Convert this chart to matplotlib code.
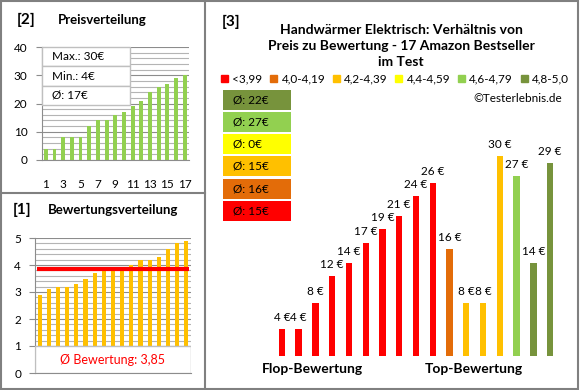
import matplotlib
matplotlib.use("Agg")
import matplotlib.pyplot as plt
from matplotlib.patches import Rectangle, Patch
from matplotlib.ticker import MultipleLocator

plt.rcParams['font.family'] = ['Lato', 'DejaVu Sans']

# data
prices_sorted = [4, 4, 8, 8, 8, 12, 14, 14, 16, 17, 19, 21, 24, 26, 27, 29, 30]
ratings_sorted = [2.9, 3.1, 3.2, 3.2, 3.3, 3.5, 3.7, 3.8, 3.8, 3.8, 4.0, 4.2, 4.2, 4.3, 4.6, 4.8, 4.9]
avg_rating = 3.85
prices_by_rating = [4, 4, 8, 12, 14, 17, 19, 21, 24, 26, 16, 8, 8, 30, 27, 14, 29]
rating_class = [0, 0, 0, 0, 0, 0, 0, 0, 0, 0, 1, 2, 2, 2, 4, 5, 5]
class_labels = ['<3,99', '4,0-4,19', '4,2-4,39', '4,4-4,59', '4,6-4,79', '4,8-5,0']
class_colors = ['#FF0000', '#E36C09', '#FFC000', '#FFFF00', '#92D050', '#77933C']
class_avg = ['15€', '16€', '15€', '0€', '27€', '22€']
stats = ['Max.: 30€', 'Min.: 4€', 'Ø: 17€']

W, H = 580, 390
fig = plt.figure(figsize=(W / 100, H / 100), dpi=100)


def ax_px(l, t, r, b):
    return fig.add_axes([l / W, 1 - b / H, (r - l) / W, (b - t) / H])


def fx(x):
    return x / W


def fy(y):
    return 1 - y / H


border = '#808080'
# panel frames
fig.add_artist(Rectangle((fx(1), fy(388.5)), fx(577), 387.5 / H, fill=False,
                         edgecolor=border, lw=1.5))
fig.add_artist(plt.Line2D([fx(205), fx(205)], [fy(1), fy(388.5)], color=border, lw=1.5))
fig.add_artist(plt.Line2D([fx(1), fx(205)], [fy(193), fy(193)], color=border, lw=1.5))


def style_grid(ax, major, minor):
    ax.yaxis.set_major_locator(MultipleLocator(major))
    ax.yaxis.set_minor_locator(MultipleLocator(minor))
    ax.grid(axis='y', which='major', color='#8C8C8C', lw=0.8)
    ax.grid(axis='y', which='minor', color='#B4B4B4', lw=0.8)
    ax.set_axisbelow(True)
    for s in ['top', 'right']:
        ax.spines[s].set_visible(False)
    for s in ['left', 'bottom']:
        ax.spines[s].set_color('#8C8C8C')
    ax.tick_params(axis='y', which='major', length=4, color='#8C8C8C', labelsize=8.5, pad=6)
    ax.tick_params(axis='y', which='minor', length=0)
    ax.tick_params(axis='x', length=0, labelsize=8.5)


# [2] Preisverteilung
fig.text(fx(17), fy(20), '[2]', fontsize=11, fontweight='bold', va='center')
fig.text(fx(58), fy(20), 'Preisverteilung', fontsize=9.5, fontweight='bold', va='center')
ax1 = ax_px(41.5, 47, 189, 160)
x1 = list(range(1, len(prices_sorted) + 1))
ax1.bar(x1, prices_sorted, width=0.45, color='#92D050')
ax1.set_xlim(0.5, 17.5)
ax1.set_ylim(0, 40)
style_grid(ax1, 10, 2)
ax1.set_xticks(x1[::2])
ax1.tick_params(axis='x', pad=14)
box_t, box_b = 47, 105
rows = len(stats)
for i, s in enumerate(stats):
    t = box_t + i * (box_b - box_t) / rows
    fig.add_artist(Rectangle((fx(42), fy(t + (box_b - box_t) / rows)), fx(88),
                             (box_b - box_t) / rows / H, facecolor='white',
                             edgecolor='#BFBFBF', lw=1))
    fig.text(fx(52), fy(t + (box_b - box_t) / rows / 2), s, fontsize=8.5, va='center')

# [1] Bewertungsverteilung
fig.text(fx(13), fy(210), '[1]', fontsize=11, fontweight='bold', va='center')
fig.text(fx(48), fy(210), 'Bewertungsverteilung', fontsize=9.5, fontweight='bold', va='center')
ax2 = ax_px(35, 238, 191, 373)
x2 = list(range(1, len(ratings_sorted) + 1))
ax2.bar(x2, ratings_sorted, width=0.45, color='#FFC000')
ax2.set_xlim(0.5, 17.5)
ax2.set_ylim(0, 5)
style_grid(ax2, 1, 0.2)
ax2.set_xticks([])
ax2.plot([0.7, 17.3], [avg_rating, avg_rating], color='#FF0000', lw=3, solid_capstyle='butt')
ax2.add_patch(Rectangle((0.5, 0), 17, 1, facecolor='white', edgecolor='#BFBFBF', lw=1, zorder=3))
ax2.text(9, 0.5, 'Ø Bewertung: ' + f'{avg_rating:.2f}'.replace('.', ','), color='#FF0000',
         fontsize=9, ha='center', va='center', zorder=4)

# [3] Preis zu Bewertung
fig.text(fx(222), fy(22), '[3]', fontsize=11, fontweight='bold', va='center')
fig.text(fx(401), fy(46), 'Handwärmer Elektrisch: Verhältnis von\nPreis zu Bewertung - 17 Amazon Bestseller\nim Test',
         fontsize=10, fontweight='bold', ha='center', va='center', linespacing=1.35)
handles = [Patch(color=c) for c in class_colors]
fig.legend(handles, class_labels, loc='center', bbox_to_anchor=(fx(395), fy(79)), ncol=6,
           frameon=False, fontsize=8.5, handlelength=0.6, handleheight=0.6,
           handletextpad=0.35, columnspacing=0.65, borderpad=0)
fig.text(fx(562), fy(98), '©Testerlebnis.de', fontsize=8.5, ha='right', va='center')

box_tops = [90, 112, 134, 156, 179, 201]
for i, t in enumerate(box_tops):
    ci = len(class_colors) - 1 - i
    fig.add_artist(Rectangle((fx(223), fy(t + 20)), fx(68), 20 / H,
                             facecolor=class_colors[ci], edgecolor='none'))
    fig.text(fx(233), fy(t + 10), 'Ø: ' + class_avg[ci], fontsize=8.5, va='center')

ax3 = ax_px(273.5, 100, 558.5, 356)
x3 = list(range(len(prices_by_rating)))
ax3.bar(x3, prices_by_rating, width=0.38, color=[class_colors[c] for c in rating_class])
for xi, p in zip(x3, prices_by_rating):
    ax3.text(xi, p + 0.9, f'{p} €', ha='center', va='bottom', fontsize=8.5)
ax3.set_xlim(-0.5, 16.5)
ax3.set_ylim(0, 256 / (200 / 30))
ax3.axis('off')
fig.text(fx(312), fy(369), 'Flop-Bewertung', fontsize=10, fontweight='bold', ha='center', va='center')
fig.text(fx(474), fy(369), 'Top-Bewertung', fontsize=10, fontweight='bold', ha='center', va='center')

fig.savefig('out.png', dpi=100)
